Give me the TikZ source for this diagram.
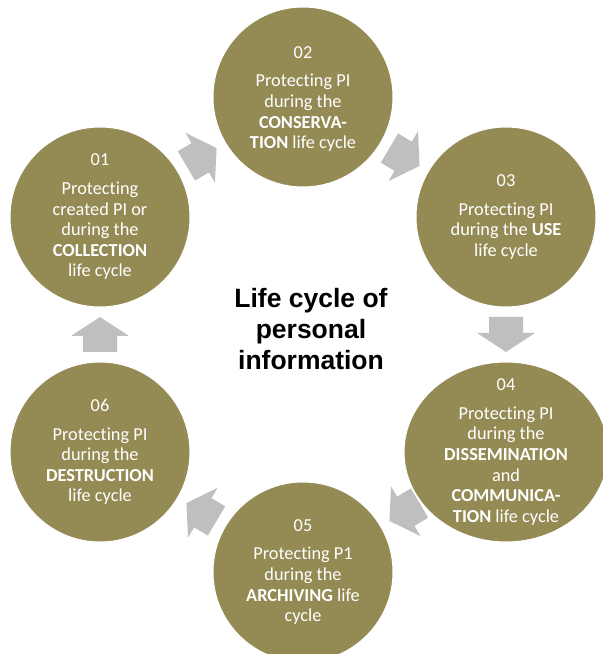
\documentclass[tikz,border=0pt]{standalone}
\usepackage{fontspec}
\setmainfont{Carlito}[Ligatures=NoCommon]
\newfontfamily\titlefont{Liberation Sans}
\usetikzlibrary{shapes.geometric}
\definecolor{stagefill}{HTML}{948A54}
\definecolor{arrowfill}{HTML}{BFBFBF}
\begin{document}
\begin{tikzpicture}[x=1pt,y=1pt,
  stage/.style={circle, fill=stagefill, draw=white, line width=1pt,
                minimum size=180pt, inner sep=0pt},
  widestage/.style={ellipse, fill=stagefill, draw=white, line width=1pt,
                minimum width=204pt, minimum height=180pt, inner sep=0pt},
  stagetext/.style={text=white, align=center, inner sep=0pt,
                font=\fontsize{18.3}{20.6}\selectfont},
  flow/.pic={\fill[arrowfill] (-17.5,-17) -- (-1.5,-17) -- (-1.5,-29)
             -- (17.5,0) -- (-1.5,29) -- (-1.5,17) -- (-17.5,17) -- cycle;}
]
\useasboundingbox (0,0) rectangle (603,654);
\clip (0,0) rectangle (603,654);

% the six stages of the cycle
\node[stage]     (c1) at (100,437) {};
\node[stage]     (c2) at (303,557) {};
\node[stage]     (c3) at (506,437) {};
\node[widestage] (c4) at (506,202) {};
\node[stage]     (c5) at (303,82)  {};
\node[stage]     (c6) at (100,202) {};

% block arrows between consecutive stages
\begin{scope}[allow upside down]
\path (c1.center) -- (c2.center) pic[pos=0.5, sloped] {flow};
\path (c2.center) -- (c3.center) pic[pos=0.5, sloped] {flow};
\path (c3.center) -- (c4.center) pic[pos=0.5, sloped] {flow};
\path (c4.center) -- (c5.center) pic[pos=0.5, sloped] {flow};
\path (c5.center) -- (c6.center) pic[pos=0.5, sloped] {flow};
\path (c6.center) -- (c1.center) pic[pos=0.5, sloped] {flow};
\end{scope}

% stage labels
\node[stagetext] (t1) at (c1.center) {01\\[8pt]Protecting\\created PI or\\during the\\\textbf{COLLECTION}\\life cycle};
\node[stagetext] (t2) at ([yshift=-2pt]c2.center) {02\\[8pt]Protecting PI\\during the\\\textbf{CONSERVA-}\\\textbf{TION} life cycle};
\node[stagetext] (t3) at (c3.center) {03\\[8pt]Protecting PI\\during the \textbf{USE}\\life cycle};
\node[stagetext] (t4) at (c4.center) {04\\[8pt]Protecting PI\\during the\\\textbf{DISSEMINATION}\\and\\\textbf{COMMUNICA-}\\\textbf{TION} life cycle};
\node[stagetext] (t5) at (c5.center) {05\\[8pt]Protecting P1\\during the\\\textbf{ARCHIVING} life\\cycle};
\node[stagetext] (t6) at (c6.center) {06\\[8pt]Protecting PI\\during the\\\textbf{DESTRUCTION}\\life cycle};

% centre title
\node[align=center, inner sep=0pt,
      font=\titlefont\bfseries\fontsize{26.5}{31}\selectfont] (title) at (311,324.5)
      {Life cycle of\\personal\\information};
\end{tikzpicture}
\end{document}
